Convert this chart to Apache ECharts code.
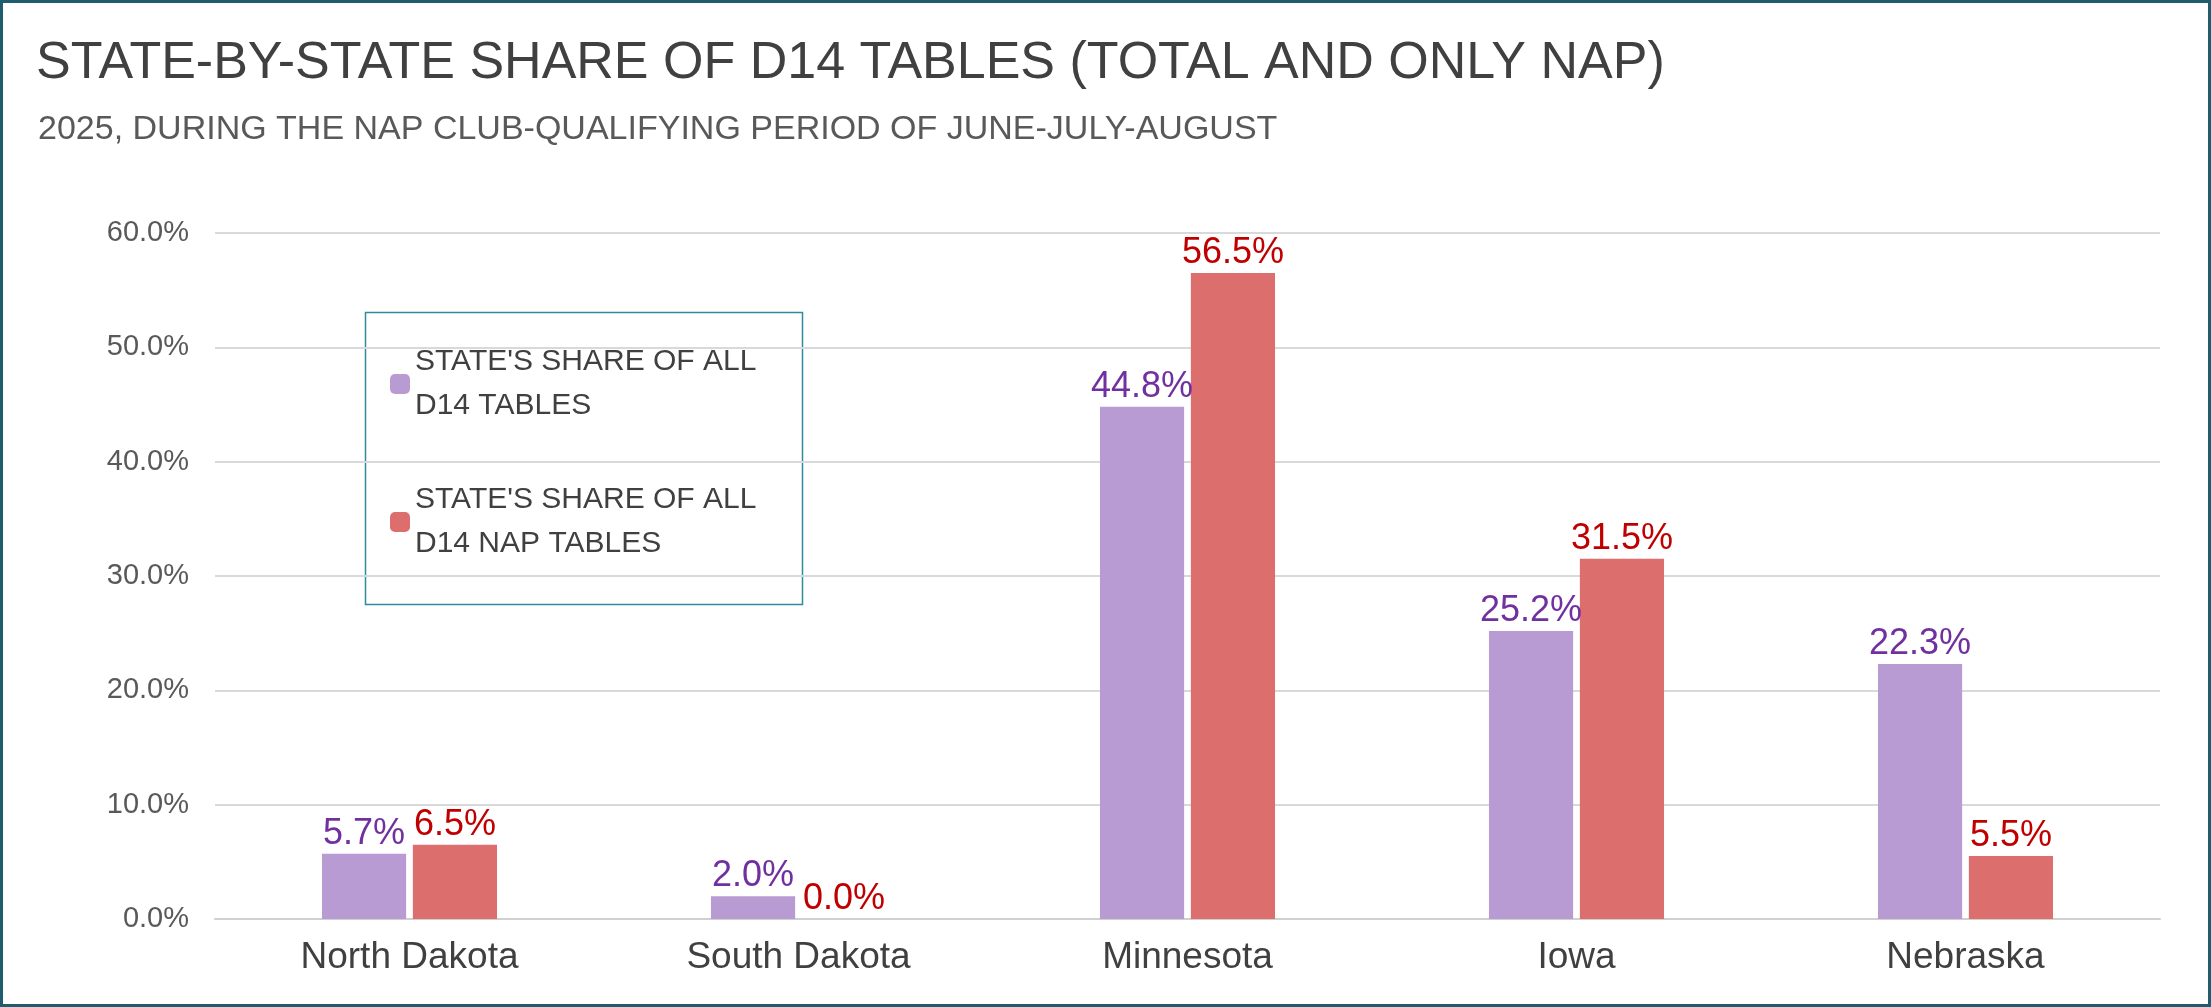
<!DOCTYPE html>
<html><head><meta charset="utf-8">
<script src="https://cdn.jsdelivr.net/npm/echarts@6/dist/echarts.min.js"></script>
<style>html,body{margin:0;padding:0;background:#fff}
#c{width:2211px;height:1007px;box-sizing:border-box;border:3px solid #1f5c6e}</style>
</head><body><div id="c"></div>
<script>
var states = ['North Dakota', 'South Dakota', 'Minnesota', 'Iowa', 'Nebraska'];
var shareAll = [5.7, 2.0, 44.8, 25.2, 22.3];
var shareNap = [6.5, 0.0, 56.5, 31.5, 5.5];
var seriesNames = ["STATE'S SHARE OF ALL\nD14 TABLES", "STATE'S SHARE OF ALL\nD14 NAP TABLES"];

var myChart = echarts.init(document.getElementById('c'));
var font = 'Liberation Sans';
function lbl(color) {
  return { show: true, position: 'top', color: color, fontSize: 36, fontFamily: font, distance: 2,
    formatter: function (p) { return p.value.toFixed(1) + '%'; } };
}
myChart.setOption({
  animation: false,
  title: [
    { text: 'STATE-BY-STATE SHARE OF D14 TABLES (TOTAL AND ONLY NAP)', left: 28, top: 30,
      textStyle: { fontSize: 52, fontWeight: 'normal', color: '#404040', fontFamily: font } },
    { text: '2025, DURING THE NAP CLUB-QUALIFYING PERIOD OF JUNE-JULY-AUGUST', left: 30, top: 105,
      textStyle: { fontSize: 34, fontWeight: 'normal', color: '#595959', fontFamily: font } }
  ],
  grid: { left: 212, right: 48, top: 230, bottom: 85 },
  legend: {
    orient: 'vertical', left: 382, top: 332, itemWidth: 20, itemHeight: 20, itemGap: 50,
    textStyle: { fontSize: 30, color: '#404040', fontFamily: font, lineHeight: 44 },
    data: seriesNames
  },
  graphic: [{ type: 'rect', left: 360, top: 307, shape: { width: 437, height: 292 },
    style: { fill: 'none', stroke: '#2f8b9e', lineWidth: 1.5 }, z: 0 }],
  xAxis: {
    type: 'category', data: states,
    axisLine: { lineStyle: { color: '#d0d0d0', width: 2 } },
    axisTick: { show: false },
    axisLabel: { fontSize: 37, color: '#404040', fontFamily: font, margin: 20 }
  },
  yAxis: {
    type: 'value', min: 0, max: 60, interval: 10,
    axisLabel: { fontSize: 29, color: '#595959', fontFamily: font, margin: 26,
      formatter: function (v) { return v.toFixed(1) + '%'; } },
    splitLine: { lineStyle: { color: '#d9d9d9', width: 2 } }
  },
  series: [
    { name: seriesNames[0], type: 'bar', data: shareAll, barGap: '8%', barCategoryGap: '55%',
      itemStyle: { color: '#b99bd4' }, label: lbl('#7030a0') },
    { name: seriesNames[1], type: 'bar', data: shareNap,
      itemStyle: { color: '#dc6e6e' }, label: lbl('#c00000') }
  ]
});
</script></body></html>
